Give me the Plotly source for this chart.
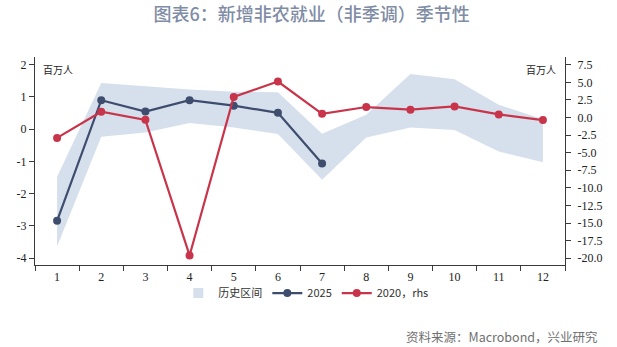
import plotly.graph_objects as go

# 月份
months = [str(m) for m in range(1, 13)]

# 历史区间（百万人，左轴）
band_upper = [-1.47, 1.43, 1.33, 1.23, 1.16, 1.15, -0.14, 0.45, 1.71, 1.55, 0.76, 0.31]
band_lower = [-3.64, -0.23, -0.10, 0.19, 0.05, -0.15, -1.57, -0.26, 0.05, -0.02, -0.69, -1.02]

# 2025 年非季调新增非农（百万人，左轴）
months_2025 = months[:7]
payrolls_2025 = [-2.84, 0.90, 0.55, 0.90, 0.73, 0.51, -1.06]

# 2020 年非季调新增非农（百万人，右轴）
payrolls_2020 = [-2.90, 0.82, -0.33, -19.60, 2.92, 5.11, 0.53, 1.49, 1.11, 1.58, 0.44, -0.37]

# 坐标轴刻度
left_ticks = [-4, -3, -2, -1, 0, 1, 2]
right_ticks = [-20.0, -17.5, -15.0, -12.5, -10.0, -7.5, -5.0, -2.5, 0.0, 2.5, 5.0, 7.5]

BAND = "#D6E0ED"
NAVY = "#3E4C6E"
RED = "#C8354B"
AXIS = "#3a3a3a"
TICK_FONT = dict(family="Liberation Serif", size=12, color="#222222")
CJK = "Noto Sans CJK SC"

fig = go.Figure()

# 区间阴影（图例用单独的方块表示）
fig.add_trace(go.Scatter(
    x=months + months[::-1],
    y=band_upper + band_lower[::-1],
    fill="toself", fillcolor=BAND,
    line=dict(width=0, color=BAND),
    mode="lines", name="历史区间", hoverinfo="skip",
    showlegend=False, legendgroup="band",
))
fig.add_trace(go.Scatter(
    x=[None], y=[None], mode="markers", name="历史区间",
    marker=dict(symbol="square", size=10, color=BAND),
    legendgroup="band",
))

fig.add_trace(go.Scatter(
    x=months_2025, y=payrolls_2025, name="2025",
    mode="lines+markers",
    line=dict(color=NAVY, width=2.2),
    marker=dict(color=NAVY, size=8),
))

fig.add_trace(go.Scatter(
    x=months, y=payrolls_2020, name="2020，rhs", yaxis="y2",
    mode="lines+markers",
    line=dict(color=RED, width=2.2),
    marker=dict(color=RED, size=8),
))

fig.update_layout(
    width=617, height=347,
    margin=dict(l=35, r=52, t=57, b=82),
    paper_bgcolor="white", plot_bgcolor="white",
    title=dict(
        text="图表6：新增非农就业（非季调）季节性",
        x=0.505, xanchor="center", xref="container",
        y=0.958, yanchor="middle", yref="container",
        font=dict(family=CJK, size=18, color="#7F8CA5", weight=500),
    ),
    xaxis=dict(
        type="category", categoryorder="array", categoryarray=months,
        range=[-0.5, 11.5], tickson="boundaries",
        ticks="outside", ticklen=5, tickwidth=1.2, tickcolor=AXIS,
        showline=True, linecolor=AXIS, linewidth=1.3,
        showgrid=False, zeroline=False,
        tickfont=TICK_FONT,
    ),
    yaxis=dict(
        range=[-4.21, 2.24],
        tickvals=left_ticks, ticktext=[str(v) for v in left_ticks],
        ticks="outside", ticklen=5, tickwidth=1.2, tickcolor=AXIS,
        showline=True, linecolor=AXIS, linewidth=1.3,
        showgrid=False, zeroline=False,
        tickfont=TICK_FONT,
    ),
    yaxis2=dict(
        range=[-20.96, 8.6], overlaying="y", side="right", anchor="x",
        tickvals=right_ticks, ticktext=[f"{v:.1f}" for v in right_ticks],
        ticks="outside", ticklen=5, tickwidth=1.2, tickcolor=AXIS,
        showline=True, linecolor=AXIS, linewidth=1.3,
        showgrid=False, zeroline=False,
        tickfont=TICK_FONT, ticklabelstandoff=4,
    ),
    legend=dict(
        orientation="h", x=0.511, xanchor="center",
        y=-0.135, yanchor="middle",
        font=dict(family=CJK, size=11, color="#333333"),
        itemwidth=30, bgcolor="rgba(0,0,0,0)",
    ),
    showlegend=True,
)

# 单位标注
fig.add_annotation(text="百万人", xref="paper", yref="paper", x=0.011, y=0.985,
                   xanchor="left", yanchor="top", showarrow=False,
                   font=dict(family=CJK, size=10, color="#222222"))
fig.add_annotation(text="百万人", xref="paper", yref="paper", x=0.987, y=0.985,
                   xanchor="right", yanchor="top", showarrow=False,
                   font=dict(family=CJK, size=10, color="#222222"))

# 资料来源
fig.add_annotation(text="资料来源：Macrobond，兴业研究", xref="paper", yref="paper",
                   x=1.066, y=-0.345, xanchor="right", yanchor="middle",
                   showarrow=False,
                   font=dict(family=CJK, size=12.5, color="#707070"))

fig.write_html("out.html")
